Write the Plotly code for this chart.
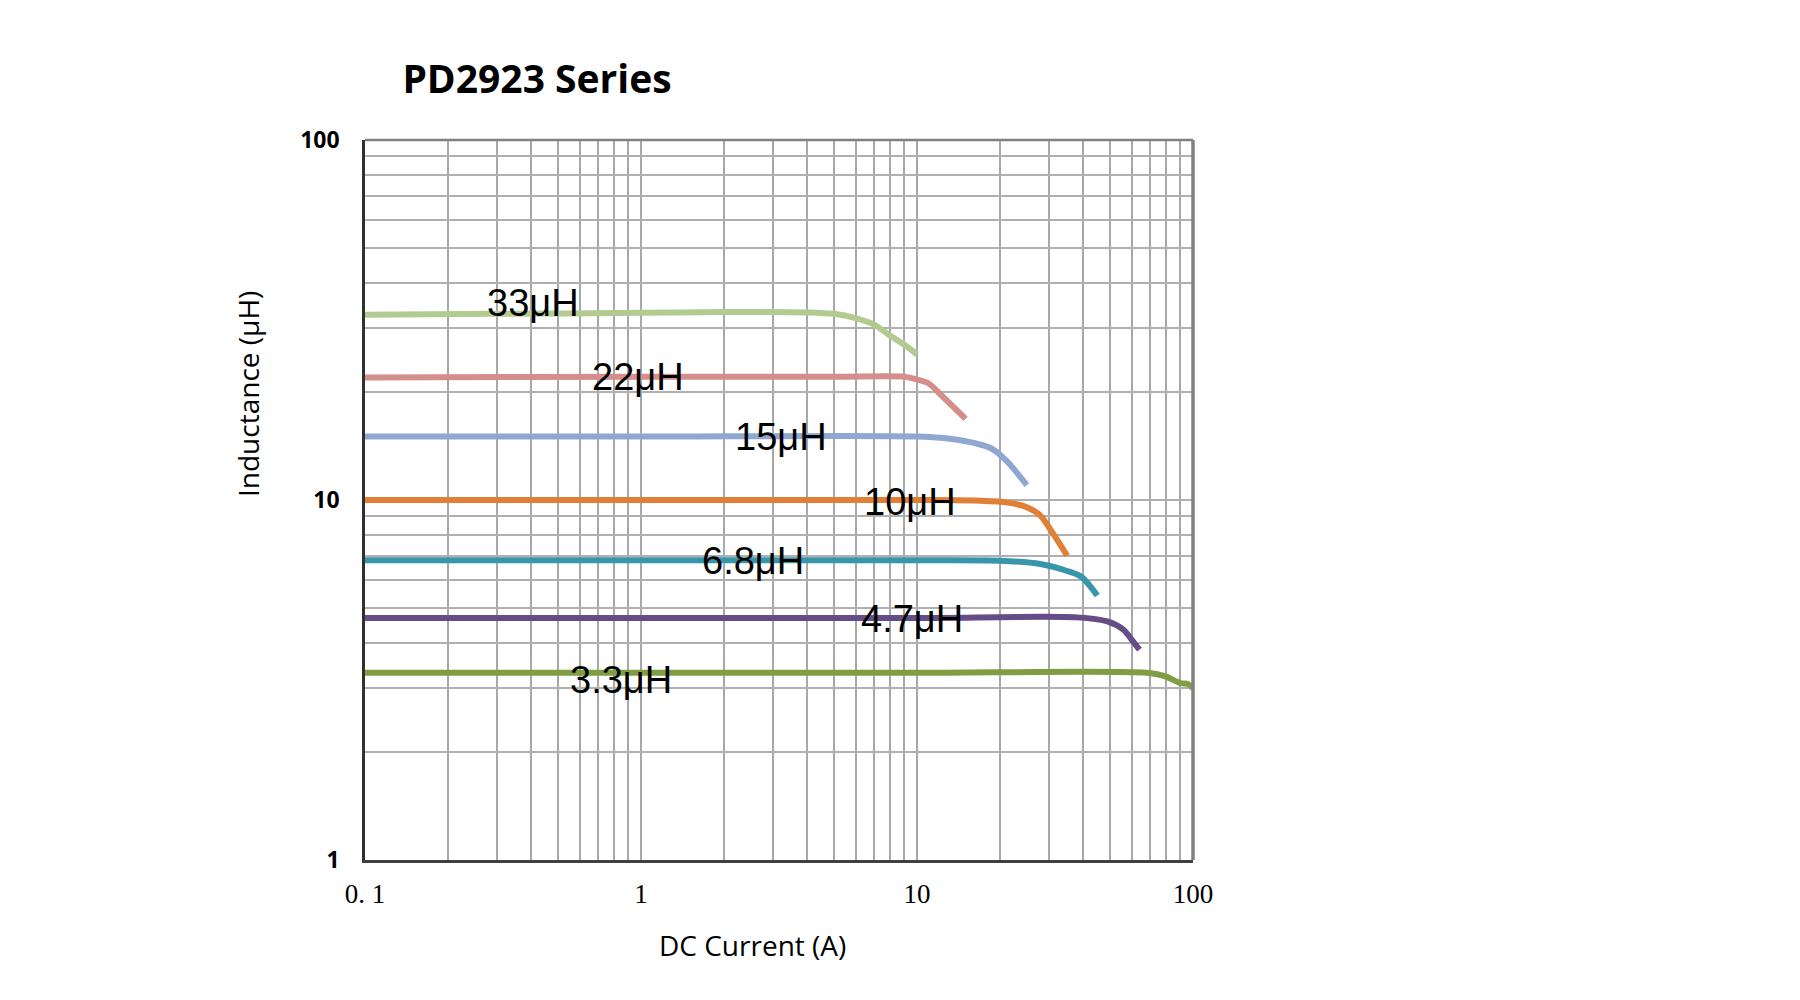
import math
import plotly.graph_objects as go

# ---- data ----
names = ["33μH", "22μH", "15μH", "10μH", "6.8μH", "4.7μH", "3.3μH"]
colors = ["#b3cb90", "#d48e8c", "#8fa8d2", "#e07f35", "#3795ac", "#654d88", "#7f9e43"]

i33 = [0.1, 0.3, 1, 2, 4, 5, 6, 7, 8, 9, 10]
l33 = [32.7, 32.9, 33.1, 33.3, 33.2, 32.9, 32.0, 30.7, 28.6, 27.0, 25.4]
i22 = [0.1, 1, 5, 9, 9.8, 11, 12.2, 15]
l22 = [21.9, 22.0, 22.0, 22.0, 21.7, 21.1, 19.6, 16.8]
i15 = [0.1, 1, 10, 14, 18.6, 21.2, 25]
l15 = [15.0, 15.0, 15.0, 14.7, 13.9, 12.8, 11.0]
i10 = [0.1, 1, 10, 16, 21, 25, 28, 31, 35]
l10 = [10.0, 10.0, 10.0, 9.97, 9.85, 9.55, 9.05, 8.1, 7.0]
i68 = [0.1, 1, 10, 20, 28, 35, 39.4, 45]
l68 = [6.8, 6.8, 6.8, 6.78, 6.64, 6.35, 6.12, 5.43]
i47 = [0.1, 1, 10, 38, 49, 56, 60, 64]
l47 = [4.7, 4.7, 4.7, 4.72, 4.6, 4.36, 4.09, 3.84]
i33b = [0.1, 1, 10, 68, 79, 90, 96, 100]
l33b = [3.31, 3.31, 3.31, 3.31, 3.24, 3.10, 3.08, 3.0]

currents = [i33, i22, i15, i10, i68, i47, i33b]
inductances = [l33, l22, l15, l10, l68, l47, l33b]

# label positions (data coords)
label_x = [0.405, 0.975, 3.22, 9.41, 2.55, 9.6, 0.843]
label_y = [35.3, 21.9, 14.96, 9.89, 6.77, 4.66, 3.17]

title_text = "PD2923 Series"
x_title = "DC Current (A)"
y_title = "Inductance (μH)"

x_major = [0.1, 1, 10, 100]
x_major_text = ["0. 1", "1", "10", "100"]
y_major = [1, 10, 100]
y_major_text = ["1", "10", "100"]

# ---- grid tick values (all 1..9 per decade) ----
def log_ticks(decades):
    vals = []
    for d in decades:
        for k in range(1, 10):
            vals.append(round(k * d, 10))
    return vals

xt = log_ticks([0.1, 1, 10]) + [100]
yt = log_ticks([1, 10]) + [100]
xtt = [x_major_text[x_major.index(v)] if v in x_major else "" for v in xt]
ytt = [y_major_text[y_major.index(v)] if v in y_major else "" for v in yt]

W, H = 1800, 1000
ML, MR, MT, MB = 357, 615, 132, 148
PW, PH = W - ML - MR, H - MT - MB


def px_to_paper(px, py):
    return (px - ML) / PW, (H - MB - py) / PH


fig = go.Figure()
for n, c, xs, ys in zip(names, colors, currents, inductances):
    fig.add_trace(go.Scatter(x=xs, y=ys, mode="lines", name=n,
                             line=dict(color=c, width=6, shape="spline", smoothing=0.8),
                             showlegend=False, hoverinfo="x+y"))

for n, lx, ly in zip(names, label_x, label_y):
    fig.add_annotation(x=math.log10(lx), y=math.log10(ly), xref="x", yref="y",
                       text=n, showarrow=False, xanchor="center", yanchor="middle",
                       font=dict(family="Liberation Sans, Arial", size=38, color="#000000"))

# axis titles as annotations (placed like the reference)
xtx, xty = px_to_paper(744, 937)
fig.add_annotation(x=xtx, y=xty, xref="paper", yref="paper",
                   text=x_title, showarrow=False, xanchor="center", yanchor="middle",
                   font=dict(family="Open Sans, Noto Sans", size=28, color="#000000"))
ytx, yty = px_to_paper(240, 386)
fig.add_annotation(x=ytx, y=yty, xref="paper", yref="paper",
                   text=y_title, showarrow=False, xanchor="center", yanchor="middle",
                   textangle=-90,
                   font=dict(family="Open Sans, Noto Sans", size=28, color="#000000"))

fig.update_layout(
    width=W, height=H,
    paper_bgcolor="white", plot_bgcolor="white",
    margin=dict(l=ML, r=MR, t=MT, b=MB),
    title=dict(text="<b>" + title_text + "</b>", x=529 / W, xanchor="center",
               y=1 - 71 / H, yanchor="middle",
               font=dict(family="Open Sans, Noto Sans", size=39, color="#000000")),
    xaxis=dict(type="log", range=[-1, 2], tickvals=xt, ticktext=xtt,
               showgrid=True, gridcolor="#a8a8a8", gridwidth=1.6,
               showline=True, linecolor="#404040", linewidth=2.5, mirror=False,
               ticks="", zeroline=False, ticklabelstandoff=8,
               tickfont=dict(family="Liberation Serif, Times New Roman", size=27, color="#000000")),
    yaxis=dict(type="log", range=[0, 2], tickvals=yt, ticktext=ytt,
               showgrid=True, gridcolor="#b0b0b0", gridwidth=2,
               showline=True, linecolor="#303030", linewidth=2.5, mirror=False,
               ticks="", zeroline=False, ticklabelstandoff=18,
               tickfont=dict(family="Open Sans, Noto Sans", size=23, color="#000000", weight="bold")),
)

# top and right gray border
fig.add_shape(type="line", xref="x domain", yref="y domain", x0=0, x1=1, y0=1, y1=1,
              line=dict(color="#808080", width=2.5))
fig.add_shape(type="line", xref="x domain", yref="y domain", x0=1, x1=1, y0=0, y1=1,
              line=dict(color="#808080", width=3.5))

fig.write_html("out.html")
